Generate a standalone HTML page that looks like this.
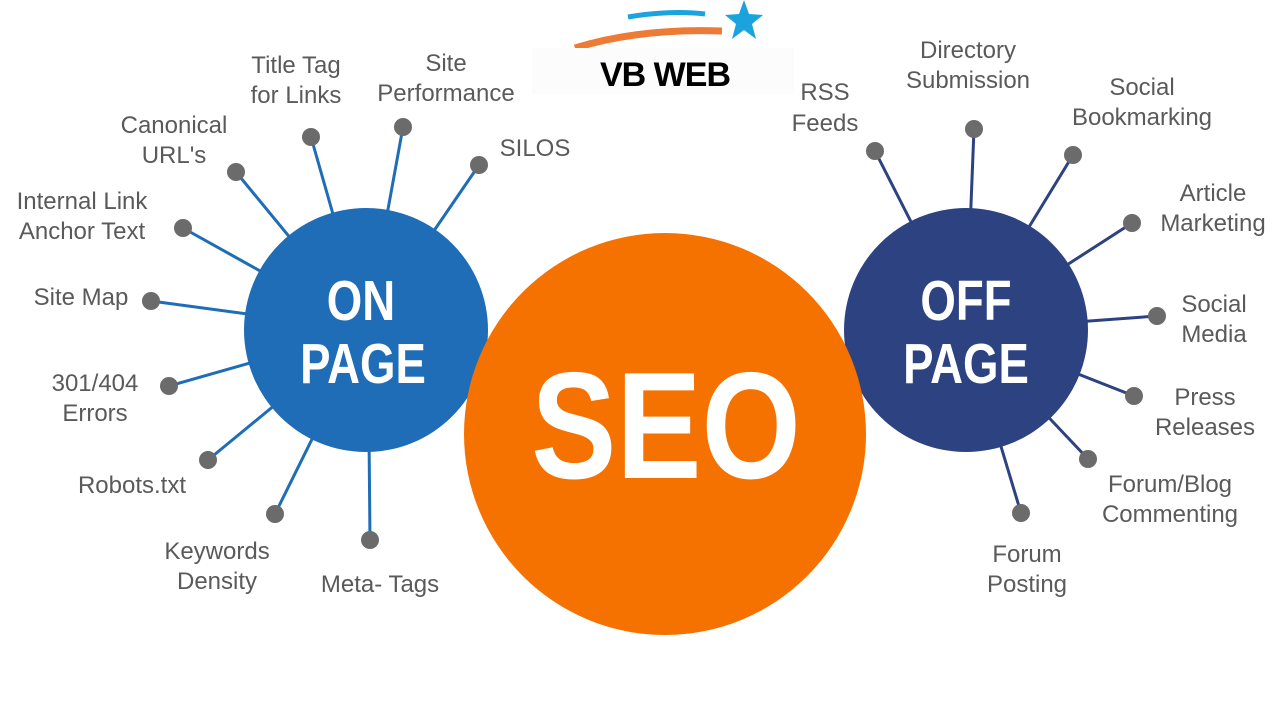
<!DOCTYPE html>
<html><head><meta charset="utf-8"><style>
html,body{margin:0;padding:0;background:#fff;width:1280px;height:720px;overflow:hidden}
svg text{font-family:"Liberation Sans",sans-serif}
.l{fill:#5a5a5a;font-size:24px;text-anchor:middle}
</style></head><body>
<svg width="1280" height="720" viewBox="0 0 1280 720" xmlns="http://www.w3.org/2000/svg">
<path d="M628 17 Q670 10 705 14" stroke="#1aa3dc" stroke-width="5" fill="none"/>
<path d="M575 48 Q640 28 722 31" stroke="#ed7a35" stroke-width="7" fill="none"/>
<polygon points="744,0 749,14 763,15 752,24 756,39 744,30 732,39 736,24 725,15 739,14" fill="#1aa3dc"/>
<rect x="532" y="48" width="262" height="46" fill="#fcfcfc"/>
<text x="665" y="86" text-anchor="middle" font-size="34" font-weight="bold" fill="#000" style="letter-spacing:-1px">VB WEB</text>
<g stroke="#1f6db6" stroke-width="3">
<line x1="311" y1="137" x2="366" y2="330"/><line x1="403" y1="127" x2="366" y2="330"/><line x1="479" y1="165" x2="366" y2="330"/>
<line x1="236" y1="172" x2="366" y2="330"/><line x1="183" y1="228" x2="366" y2="330"/><line x1="151" y1="301" x2="366" y2="330"/>
<line x1="169" y1="386" x2="366" y2="330"/><line x1="208" y1="460" x2="366" y2="330"/><line x1="275" y1="514" x2="366" y2="330"/>
<line x1="370" y1="540" x2="368" y2="330"/>
</g>
<g fill="#6b6b6b">
<circle cx="311" cy="137" r="9"/><circle cx="403" cy="127" r="9"/><circle cx="479" cy="165" r="9"/><circle cx="236" cy="172" r="9"/>
<circle cx="183" cy="228" r="9"/><circle cx="151" cy="301" r="9"/><circle cx="169" cy="386" r="9"/><circle cx="208" cy="460" r="9"/>
<circle cx="275" cy="514" r="9"/><circle cx="370" cy="540" r="9"/>
</g>
<g stroke="#2d4281" stroke-width="3">
<line x1="875" y1="151" x2="966" y2="330"/><line x1="974" y1="129" x2="966" y2="330"/><line x1="1073" y1="155" x2="966" y2="330"/>
<line x1="1132" y1="223" x2="966" y2="330"/><line x1="1157" y1="316" x2="966" y2="330"/><line x1="1134" y1="396" x2="966" y2="330"/>
<line x1="1088" y1="459" x2="966" y2="330"/><line x1="1021" y1="513" x2="966" y2="330"/>
</g>
<g fill="#6b6b6b">
<circle cx="875" cy="151" r="9"/><circle cx="974" cy="129" r="9"/><circle cx="1073" cy="155" r="9"/><circle cx="1132" cy="223" r="9"/>
<circle cx="1157" cy="316" r="9"/><circle cx="1134" cy="396" r="9"/><circle cx="1088" cy="459" r="9"/><circle cx="1021" cy="513" r="9"/>
</g>
<circle cx="366" cy="330" r="122" fill="#1f6db6"/>
<circle cx="966" cy="330" r="122" fill="#2d4281"/>
<circle cx="665" cy="434" r="201" fill="#f57200"/>
<g fill="#fff" font-weight="bold" text-anchor="middle">
<text transform="translate(361,320) scale(0.8,1)" font-size="57">ON</text>
<text transform="translate(363,383) scale(0.8,1)" font-size="57">PAGE</text>
<text transform="translate(966,320) scale(0.8,1)" font-size="57">OFF</text>
<text transform="translate(966,383) scale(0.8,1)" font-size="57">PAGE</text>
<text transform="translate(666,478) scale(0.84,1)" font-size="152">SEO</text>
</g>
<text class="l" x="296" y="73">Title Tag</text><text class="l" x="296" y="103">for Links</text>
<text class="l" x="446" y="71">Site</text><text class="l" x="446" y="101">Performance</text>
<text class="l" x="535" y="156">SILOS</text>
<text class="l" x="174" y="133">Canonical</text><text class="l" x="174" y="163">URL's</text>
<text class="l" x="82" y="209">Internal Link</text><text class="l" x="82" y="239">Anchor Text</text>
<text class="l" x="81" y="305">Site Map</text>
<text class="l" x="95" y="391">301/404</text><text class="l" x="95" y="421">Errors</text>
<text class="l" x="132" y="493">Robots.txt</text>
<text class="l" x="217" y="559">Keywords</text><text class="l" x="217" y="589">Density</text>
<text class="l" x="380" y="592">Meta- Tags</text>
<text class="l" x="825" y="100">RSS</text><text class="l" x="825" y="131">Feeds</text>
<text class="l" x="968" y="58">Directory</text><text class="l" x="968" y="88">Submission</text>
<text class="l" x="1142" y="95">Social</text><text class="l" x="1142" y="125">Bookmarking</text>
<text class="l" x="1213" y="201">Article</text><text class="l" x="1213" y="231">Marketing</text>
<text class="l" x="1214" y="312">Social</text><text class="l" x="1214" y="342">Media</text>
<text class="l" x="1205" y="405">Press</text><text class="l" x="1205" y="435">Releases</text>
<text class="l" x="1170" y="492">Forum/Blog</text><text class="l" x="1170" y="522">Commenting</text>
<text class="l" x="1027" y="562">Forum</text><text class="l" x="1027" y="592">Posting</text>
</svg>
</body></html>
